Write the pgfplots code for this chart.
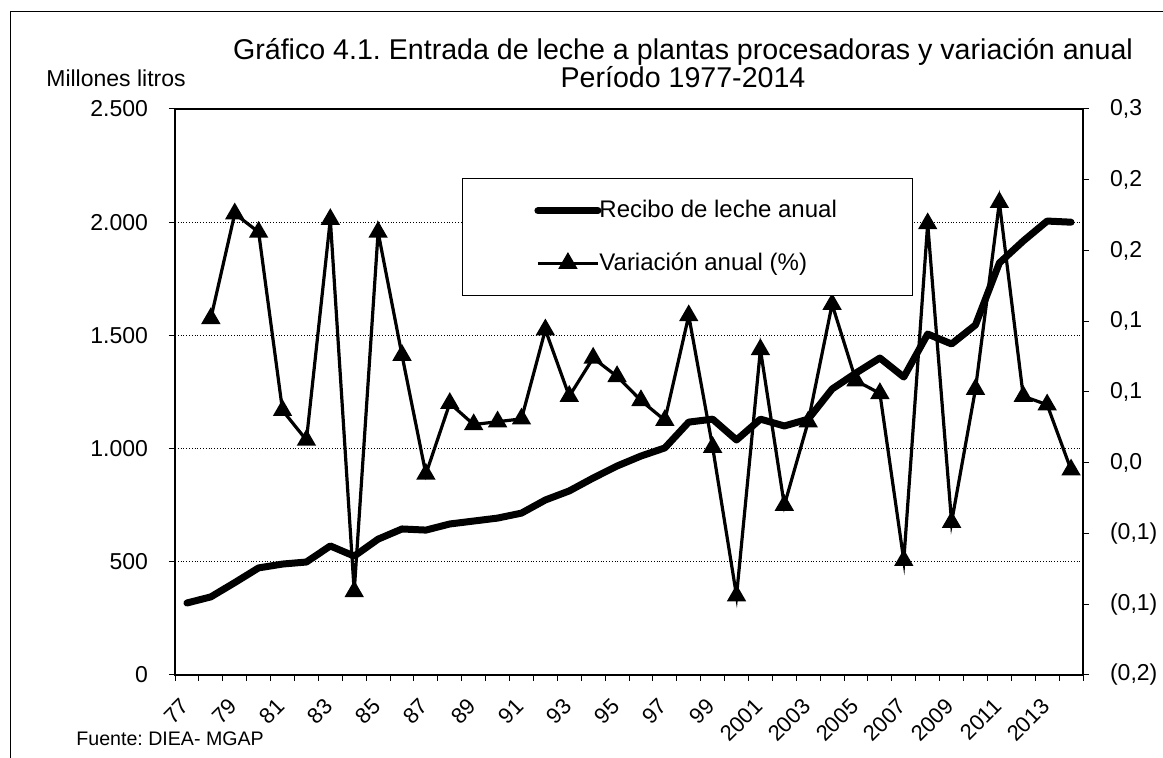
\documentclass[border=0pt]{standalone}
\usepackage{fontspec}
\setmainfont{Liberation Sans}
\usepackage{pgfplots}
\usepackage{pgfplotstable}
\pgfplotsset{compat=1.18}
\frenchspacing
\pgfplotstableread{
i year milk
0 1977 318
1 1978 345
2 1979 408
3 1980 473
4 1981 490
5 1982 499
6 1983 570
7 1984 525
8 1985 600
9 1986 645
10 1987 640
11 1988 667
12 1989 680
13 1990 693
14 1991 715
15 1992 773
16 1993 813
17 1994 870
18 1995 923
19 1996 967
20 1997 1003
21 1998 1117
22 1999 1130
23 2000 1038
24 2001 1130
25 2002 1100
26 2003 1130
27 2004 1263
28 2005 1334
29 2006 1400
30 2007 1316
31 2008 1506
32 2009 1462
33 2010 1546
34 2011 1820
35 2012 1917
36 2013 2005
37 2014 2000
}\milk
\pgfplotstableread{
i year var
1 1978 0.102
2 1979 0.176
3 1980 0.163
4 1981 0.037
5 1982 0.016
6 1983 0.172
7 1984 -0.091
8 1985 0.163
9 1986 0.076
10 1987 -0.008
11 1988 0.042
12 1989 0.027
13 1990 0.029
14 1991 0.031
15 1992 0.094
16 1993 0.047
17 1994 0.074
18 1995 0.061
19 1996 0.044
20 1997 0.030
21 1998 0.104
22 1999 0.011
23 2000 -0.094
24 2001 0.080
25 2002 -0.030
26 2003 0.029
27 2004 0.112
28 2005 0.058
29 2006 0.049
30 2007 -0.069
31 2008 0.169
32 2009 -0.042
33 2010 0.052
34 2011 0.184
35 2012 0.047
36 2013 0.041
37 2014 -0.005
}\variation
\begin{document}
\begin{tikzpicture}[x=1pt,y=1pt]
\path[use as bounding box] (0,0) rectangle (581.5,379);
\draw[line width=0.5pt] (5,0) -- (5,373) -- (581.5,373);
\node[font=\fontsize{14.3}{16}\selectfont] at (341.5,353) {Gráfico 4.1. Entrada de leche a plantas procesadoras y variación anual};
\node[font=\fontsize{14.3}{16}\selectfont] at (341.5,340.5) {Período 1977-2014};
\node[font=\fontsize{11.5}{13}\selectfont] at (58,340) {Millones litros};
\node[font=\fontsize{9.8}{11}\selectfont, anchor=west, inner sep=0] at (38,9.5) {Fuente: DIEA- MGAP};

\begin{axis}[
  at={(87.5pt,41.5pt)}, anchor=south west,
  scale only axis, width=454pt, height=283pt,
  xmin=-0.5, xmax=37.5, ymin=0, ymax=2500,
  axis line style={line width=0.9pt},
  ytick={0,500,1000,1500,2000,2500},
  yticklabels={0,500,1.000,1.500,2.000,2.500},
  ytick pos=left, xtick pos=bottom,
  tick align=outside,
  major tick length=3pt, minor tick length=3pt,
  tick style={black, line width=0.5pt},
  xtick={0,2,...,36},
  xticklabels={77,79,81,83,85,87,89,91,93,95,97,99,2001,2003,2005,2007,2009,2011,2013},
  minor xtick={-0.5,0.5,...,37.5},
  xtick style={draw=none},
  minor x tick style={draw=black, line width=0.5pt},
  ymajorgrids,
  grid style={densely dotted, black, line width=0.4pt},
  ticklabel style={font=\fontsize{11.5}{13}\selectfont},
  xticklabel style={anchor=east, inner sep=1pt, xshift=0pt, yshift=-10pt, rotate=45, font=\fontsize{11}{13}\selectfont},
  yticklabel style={xshift=-7pt},
]
\addplot[black, line width=3.5pt, line join=round, line cap=round] table[x=i, y=milk] {\milk};
\end{axis}

\begin{axis}[
  at={(87.5pt,41.5pt)}, anchor=south west,
  scale only axis, width=454pt, height=283pt,
  xmin=-0.5, xmax=37.5, ymin=-0.15, ymax=0.25,
  axis x line=none,
  axis y line*=right,
  axis line style={line width=0.9pt},
  ytick={-0.15,-0.1,-0.05,0,0.05,0.1,0.15,0.2,0.25},
  yticklabels={{(0,2)},{(0,1)},{(0,1)},{0,0},{0,1},{0,1},{0,2},{0,2},{0,3}},
  tick align=outside, major tick length=3pt,
  tick style={black, line width=0.5pt},
  ticklabel style={font=\fontsize{11.5}{13}\selectfont},
  yticklabel style={xshift=7pt},
  legend style={at={(0.316,0.878)}, anchor=north west, draw=black, line width=0.5pt, fill=white,
    inner xsep=36pt, inner ysep=9pt, row sep=12pt, column sep=-3pt,
    font=\fontsize{12}{14}\selectfont, cells={anchor=west}},
  legend cell align=left,
  legend image code/.code={\draw[#1, mark repeat=2, mark phase=2] plot coordinates {(0pt,0pt) (15pt,0pt) (30pt,0pt)};},
]
\addlegendimage{black, line width=3.5pt, line cap=round}
\addlegendentry{Recibo de leche anual}
\addplot[black, line width=1.6pt, mark=triangle*, mark size=4pt, mark options={solid}] table[x=i, y=var] {\variation};
\addlegendentry{Variación anual (\%)}
\end{axis}
\end{tikzpicture}
\end{document}
